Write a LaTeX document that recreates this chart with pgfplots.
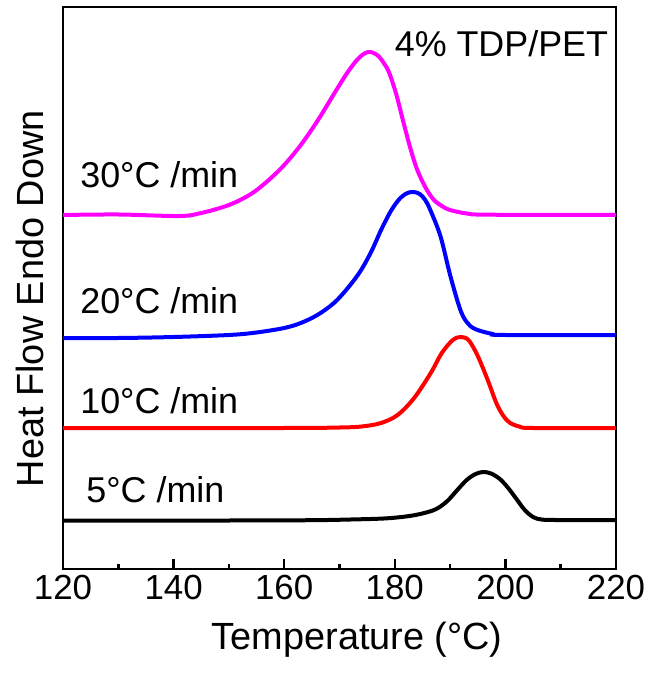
\documentclass[border=0pt]{standalone}
\usepackage{pgfplots}
\pgfplotsset{compat=1.18}
\usepackage{fontspec}
\setmainfont{Liberation Sans}
\definecolor{pmag}{RGB}{255,0,255}
\definecolor{pblue}{RGB}{0,0,255}
\definecolor{pred}{RGB}{255,0,0}

\begin{document}
\begin{tikzpicture}
\begin{axis}[
    scale only axis,
    width=553bp, height=562bp,
    xmin=120, xmax=220,
    ymin=0, ymax=562,
    xtick={120,140,...,220},
    minor x tick num=1,
    ytick=\empty,
    tick pos=bottom,
    tick align=inside,
    major tick length=10bp,
    minor tick length=5bp,
    every tick/.style={black, line width=2.5bp},
    axis line style={line width=2.5bp},
    /pgf/number format/assume math mode=true,
    tick label style={font=\fontsize{35}{40}\selectfont},
    xticklabel style={yshift=-3bp},
    label style={font=\fontsize{38}{44}\selectfont},
    xlabel={Temperature (°C)},
    ylabel={Heat Flow Endo Down},
    xlabel style={at={(axis description cs:0.532,-0.144)}, anchor=base},
    ylabel style={at={(axis description cs:-0.036,0.481)}, anchor=base},
    every axis plot/.append style={line width=4bp, smooth, tension=0.55},
    clip=false,
]
% 5 C/min
\addplot[black] coordinates {
    (120,48.5) (150,48.5) (165,48.8) (172,49.5) (178,50.5) (182,52.5) (185,55.5)
    (187.5,60) (189.5,68) (191.3,79) (193,89) (194.6,95) (196,97) (197.4,95.5)
    (199,90) (200.5,81) (202,70) (203.5,59) (205,52) (206.5,49.5) (209,49) (220,49)
};
% 10 C/min
\addplot[pred] coordinates {
    (120,141) (160,141) (170,141.5) (174,142.5) (177.5,146) (180.5,154)
    (183.5,171) (186.5,196) (188.5,216) (190.5,229) (192,232) (193.4,228.5)
    (195,213) (196.8,189) (198.6,163) (200.4,148) (202.5,142.5) (205,141) (220,141)
};
% 20 C/min
\addplot[pblue] coordinates {
    (120,231) (130,231) (140,232) (150,234) (155,236.5) (160,241) (163,246)
    (166,254) (169,266) (171.5,281) (173.8,298) (175.8,318) (177.6,340) (179.4,359)
    (181,371) (182.3,376) (183.4,377) (184.5,375) (185.5,369) (186.5,358)
    (188.3,332) (190,294) (191.8,260) (193,247) (194.5,240) (197.7,235) (200,234) (220,234)
};
% 30 C/min
\addplot[pmag] coordinates {
    (120,354) (130,354.5) (141,353) (145,356) (150,364) (154,375) (157,388)
    (160,404) (163,424) (166,448) (169,475) (171.5,497) (173.5,511) (175.2,517)
    (176.8,514) (178,506) (179,496) (180.3,474) (181.5,448) (182.8,421)
    (184,400) (185.5,382) (187,369.5) (188.5,363) (190,359) (193,355.5) (197,354.3) (220,354)
};
\node[font=\fontsize{36}{40}\selectfont, anchor=base west, inner sep=0pt] at (axis cs:123.1,381) {30°C /min};
\node[font=\fontsize{36}{40}\selectfont, anchor=base west, inner sep=0pt] at (axis cs:123.1,255) {20°C /min};
\node[font=\fontsize{36}{40}\selectfont, anchor=base west, inner sep=0pt] at (axis cs:123.1,155) {10°C /min};
\node[font=\fontsize{36}{40}\selectfont, anchor=base west, inner sep=0pt] at (axis cs:124.2,67) {5°C /min};
\node[font=\fontsize{36}{40}\selectfont, anchor=base east, inner sep=0pt] at (axis cs:218.6,512) {4\% TDP/PET};
\end{axis}
\pgfresetboundingbox
\path (current axis.south west) ++(-63bp,-104bp) coordinate (bl);
\path (current axis.north east) ++(34bp,7bp) coordinate (tr);
\path (bl) rectangle (tr);
\end{tikzpicture}
\end{document}
